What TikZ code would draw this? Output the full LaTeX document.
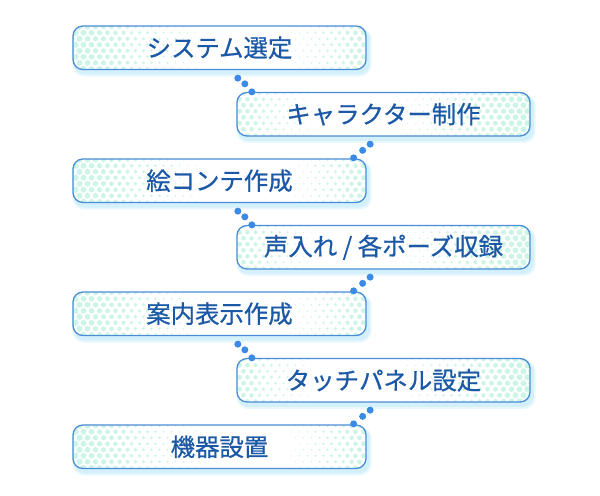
\documentclass[tikz,border=0pt]{standalone}
\usepackage{fontspec}
\newfontfamily\jp[FakeBold=0.7]{Noto Sans CJK JP}
\usetikzlibrary{calc,backgrounds}
\definecolor{bordc}{HTML}{4A8CD6}
\definecolor{textc}{HTML}{1B58A5}
\definecolor{dotc}{HTML}{3B8BE6}
\definecolor{mintc}{HTML}{CDF5E6}
\definecolor{shadc}{HTML}{D4F1FB}
\begin{document}
\begin{tikzpicture}[x=1bp,y=-1bp,
  stepbox/.style={draw=bordc,line width=1.3bp,rounded corners=10bp,
    minimum width=293bp,minimum height=43.5bp,inner sep=0pt,
    text=textc,font=\jp\fontsize{24.5}{28}\selectfont},
  linkdot/.style={fill=dotc}]
\useasboundingbox (0,0) rectangle (600,496);
\node[stepbox] (b1) at (219.5,47.75)  {システム選定};
\node[stepbox] (b2) at (383.5,114.25) {キャラクター制作};
\node[stepbox] (b3) at (219.5,180.75) {絵コンテ作成};
\node[stepbox] (b4) at (383.5,247.25) {声入れ / 各ポーズ収録};
\node[stepbox] (b5) at (219.5,313.75) {案内表示作成};
\node[stepbox] (b6) at (383.5,380.25) {タッチパネル設定};
\node[stepbox] (b7) at (219.5,446.75) {機器設置};

\begin{scope}[on background layer]
\foreach \n/\m in {b1/0,b2/1,b3/0,b4/1,b5/0,b6/1,b7/0}{
  \fill[shadc,opacity=.5,rounded corners=12bp] ($(\n.north west)+(0,2)$) rectangle ($(\n.south east)+(5,6.5)$);
  \fill[shadc,rounded corners=11bp] ($(\n.north west)+(1,3)$) rectangle ($(\n.south east)+(3.5,4.5)$);
  \begin{scope}[shift={(\n.center)}]
    \clip[rounded corners=10bp] (-146.5,-21.75) rectangle (146.5,21.75);
    \fill[white] (-147,-22) rectangle (147,22);
    \foreach \j in {0,...,7}{
      \foreach \i in {0,...,37}{
        \pgfmathsetmacro\xx{-148+8*\i+4*mod(\j,2)}
        \pgfmathsetmacro\yy{-21+6*\j}
        \pgfmathsetmacro\uu{(\xx+146.5)/293}
        \pgfmathsetmacro\uu{\m==1 ? 1-\uu : \uu}
        \pgfmathsetmacro\rr{max(0,3.2*(1-\uu/0.5))+max(0,2.6*(\uu-0.7)/0.3)}
        \ifdim\rr pt>0.35pt \fill[mintc] (\xx,\yy) circle (\rr); \fi
      }
    }
  \end{scope}
}
\end{scope}

\foreach \a/\b in {b1/b2,b3/b4,b5/b6}{
  \fill[linkdot] ($(\b.north west |- \a.south)+(1.5,8)$) circle (3.5);
  \fill[linkdot] ($(\b.north west)+(8.5,-8)$) circle (3.5);
  \fill[linkdot] ($(\b.north west)+(15.5,0)$) circle (3.5);
}
\foreach \a/\b in {b2/b3,b4/b5,b6/b7}{
  \fill[linkdot] ($(\b.north east |- \a.south)+(3.5,7.5)$) circle (3.5);
  \fill[linkdot] ($(\b.north east)+(-4,-8)$) circle (3.5);
  \fill[linkdot] ($(\b.north east)+(-13,-0.5)$) circle (3.5);
}
\end{tikzpicture}
\end{document}
